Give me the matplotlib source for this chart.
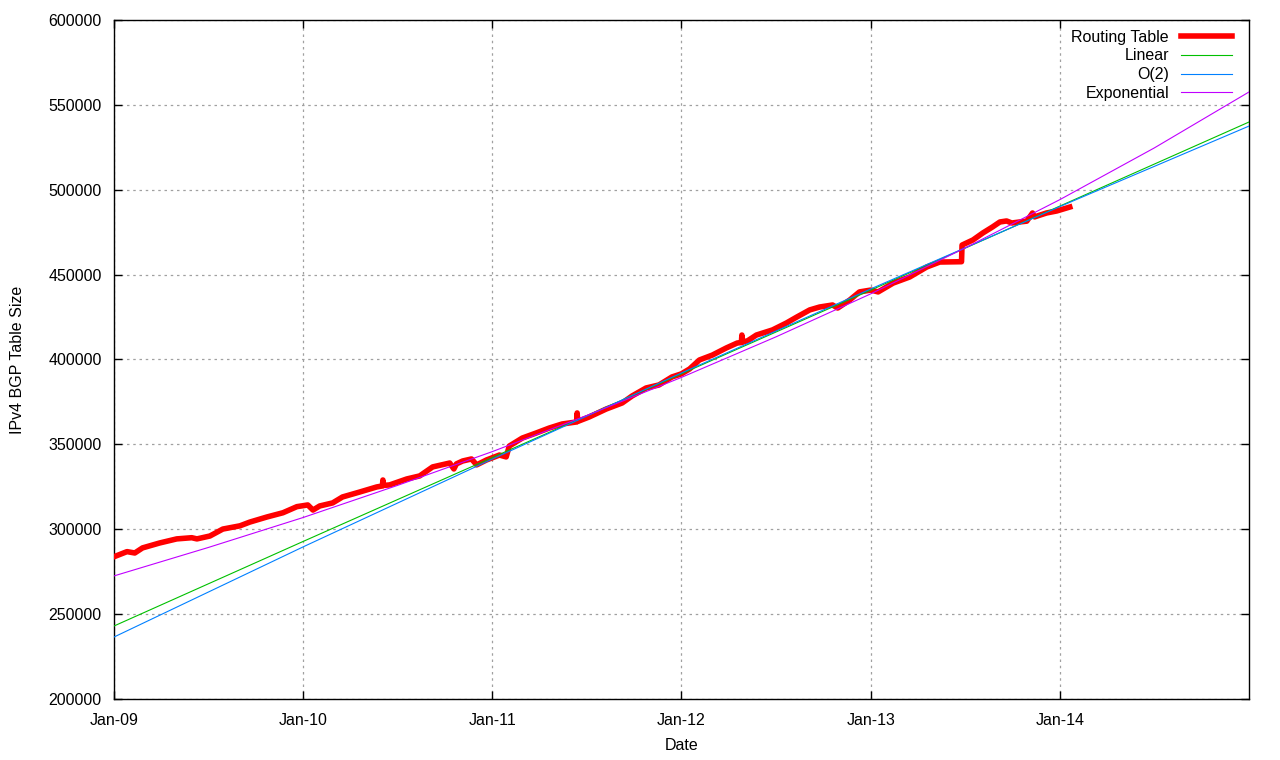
import numpy as np
import pandas as pd
import matplotlib
matplotlib.use("Agg")
import matplotlib.pyplot as plt
import matplotlib.dates as mdates
from matplotlib.ticker import MultipleLocator, FormatStrFormatter, FixedLocator

plt.rcParams['font.family'] = ['Liberation Sans', 'DejaVu Sans']

# routing table size
rt_dates = ['2009-01-01', '2009-01-26', '2009-02-10', '2009-02-25', '2009-03-30',
            '2009-05-02', '2009-05-31', '2009-06-10', '2009-07-05', '2009-07-30',
            '2009-09-01', '2009-09-20', '2009-10-23', '2009-11-23', '2009-12-20',
            '2010-01-10', '2010-01-20', '2010-02-02', '2010-02-27', '2010-03-18',
            '2010-04-20', '2010-05-23', '2010-06-03', '2010-06-04', '2010-06-05',
            '2010-06-17', '2010-07-20', '2010-08-14', '2010-09-08', '2010-10-11',
            '2010-10-19', '2010-10-24', '2010-11-05', '2010-11-22', '2010-12-02',
            '2010-12-21', '2011-01-15', '2011-01-28', '2011-02-03', '2011-02-28',
            '2011-03-27', '2011-04-21', '2011-05-16', '2011-06-13', '2011-06-14',
            '2011-06-15', '2011-07-07', '2011-08-09', '2011-09-09', '2011-09-28',
            '2011-10-25', '2011-11-19', '2011-12-14', '2012-01-01', '2012-01-17',
            '2012-02-05', '2012-03-01', '2012-03-28', '2012-04-18', '2012-04-26',
            '2012-04-27', '2012-04-28', '2012-05-08', '2012-05-25', '2012-06-25',
            '2012-07-22', '2012-08-11', '2012-09-05', '2012-09-24', '2012-10-19',
            '2012-10-29', '2012-11-21', '2012-12-10', '2013-01-01', '2013-01-15',
            '2013-02-13', '2013-03-17', '2013-04-19', '2013-05-14', '2013-06-25',
            '2013-06-26', '2013-07-17', '2013-08-05', '2013-08-24', '2013-09-07',
            '2013-09-20', '2013-09-30', '2013-10-15', '2013-10-29', '2013-11-09',
            '2013-11-13', '2013-12-06', '2013-12-26', '2014-01-20']
rt_size = [283800, 286800, 286000, 289000, 291900,
           294300, 295000, 294300, 296000, 300100,
           302000, 304200, 307200, 309700, 313300,
           314300, 311300, 313700, 315500, 319000,
           321900, 324900, 325500, 329000, 325800,
           326100, 329600, 331400, 336700, 339000,
           335500, 338500, 340200, 341400, 337900,
           340800, 343700, 342600, 349000, 353700,
           356700, 359600, 362000, 363200, 368500,
           363500, 366100, 370800, 374400, 378500,
           383200, 385000, 389700, 391500, 394400,
           399700, 402600, 406800, 409700, 410000,
           414400, 410300, 411000, 414400, 417400,
           421500, 425000, 429200, 430900, 432100,
           430300, 435000, 439800, 440900, 439800,
           445000, 448600, 454500, 457400, 457600,
           467400, 470400, 474500, 478100, 481000,
           481600, 480400, 481000, 481500, 486300,
           484000, 486300, 487500, 489800]

# fitted curves
fit_dates = ['2009-01-01', '2010-01-01', '2011-01-01', '2012-01-01',
             '2013-01-01', '2014-01-01', '2015-01-01']
linear_fit = [243000, 292800, 342200, 391500, 440900, 490400, 539900]
o2_fit = [236500, 289600, 341300, 392000, 441600, 490100, 537500]

exp_dates = ['2009-01-01', '2009-07-02', '2010-01-01', '2010-07-02', '2011-01-01',
             '2011-07-02', '2012-01-01', '2012-07-02', '2013-01-01', '2013-07-02',
             '2014-01-01', '2014-07-02', '2015-01-01']
exp_fit = [272500, 289250, 306900, 325800, 345700, 366950, 389400,
           413350, 438700, 465700, 494200, 524600, 557600]

tick_dates = ['2009-01-01', '2010-01-01', '2011-01-01', '2012-01-01',
              '2013-01-01', '2014-01-01']

rt_x = pd.to_datetime(rt_dates)
fit_x = pd.to_datetime(fit_dates)
exp_x = pd.to_datetime(exp_dates)

fs = 11.5
fig = plt.figure(figsize=(12.8, 7.6), dpi=100)
ax = fig.add_axes([0.0891, 0.0803, 0.8867, 0.8934])

ax.plot(rt_x, rt_size, color='#ff0000', lw=4.0, label='Routing Table', zorder=3)
ax.plot(fit_x, linear_fit, color='#00c000', lw=0.8, label='Linear', zorder=4)
ax.plot(fit_x, o2_fit, color='#0080ff', lw=0.8, label='O(2)', zorder=4)
ax.plot(exp_x, exp_fit, color='#c000ff', lw=0.8, label='Exponential', zorder=4)

ax.set_xlim(pd.Timestamp('2009-01-01'), pd.Timestamp('2015-01-01'))
ax.set_ylim(200000, 600000)
ax.xaxis.set_major_locator(FixedLocator(mdates.date2num(pd.to_datetime(tick_dates))))
ax.xaxis.set_major_formatter(mdates.DateFormatter('%b-%y'))
ax.yaxis.set_major_locator(MultipleLocator(50000))
ax.yaxis.set_major_formatter(FormatStrFormatter('%d'))

ax.grid(True, color='#a0a0a0', linestyle=(0, (2, 3)), lw=0.9)
ax.tick_params(direction='in', length=6, width=1, top=True, right=True,
               labelsize=fs, pad=9, colors='black')
ax.tick_params(axis='x', pad=10)
for s in ax.spines.values():
    s.set_linewidth(1)

ax.set_xlabel('Date', fontsize=fs, labelpad=7)
ax.set_ylabel('IPv4 BGP Table Size', fontsize=fs, labelpad=17)

leg = ax.legend(loc='upper right', frameon=False, markerfirst=False, fontsize=fs,
                handlelength=3.2, labelspacing=0.24, handletextpad=0.75,
                borderaxespad=0.2, bbox_to_anchor=(0.9935, 1.0))
leg.get_lines()[0].set_linewidth(4.0)

fig.savefig('out.png', dpi=100)
